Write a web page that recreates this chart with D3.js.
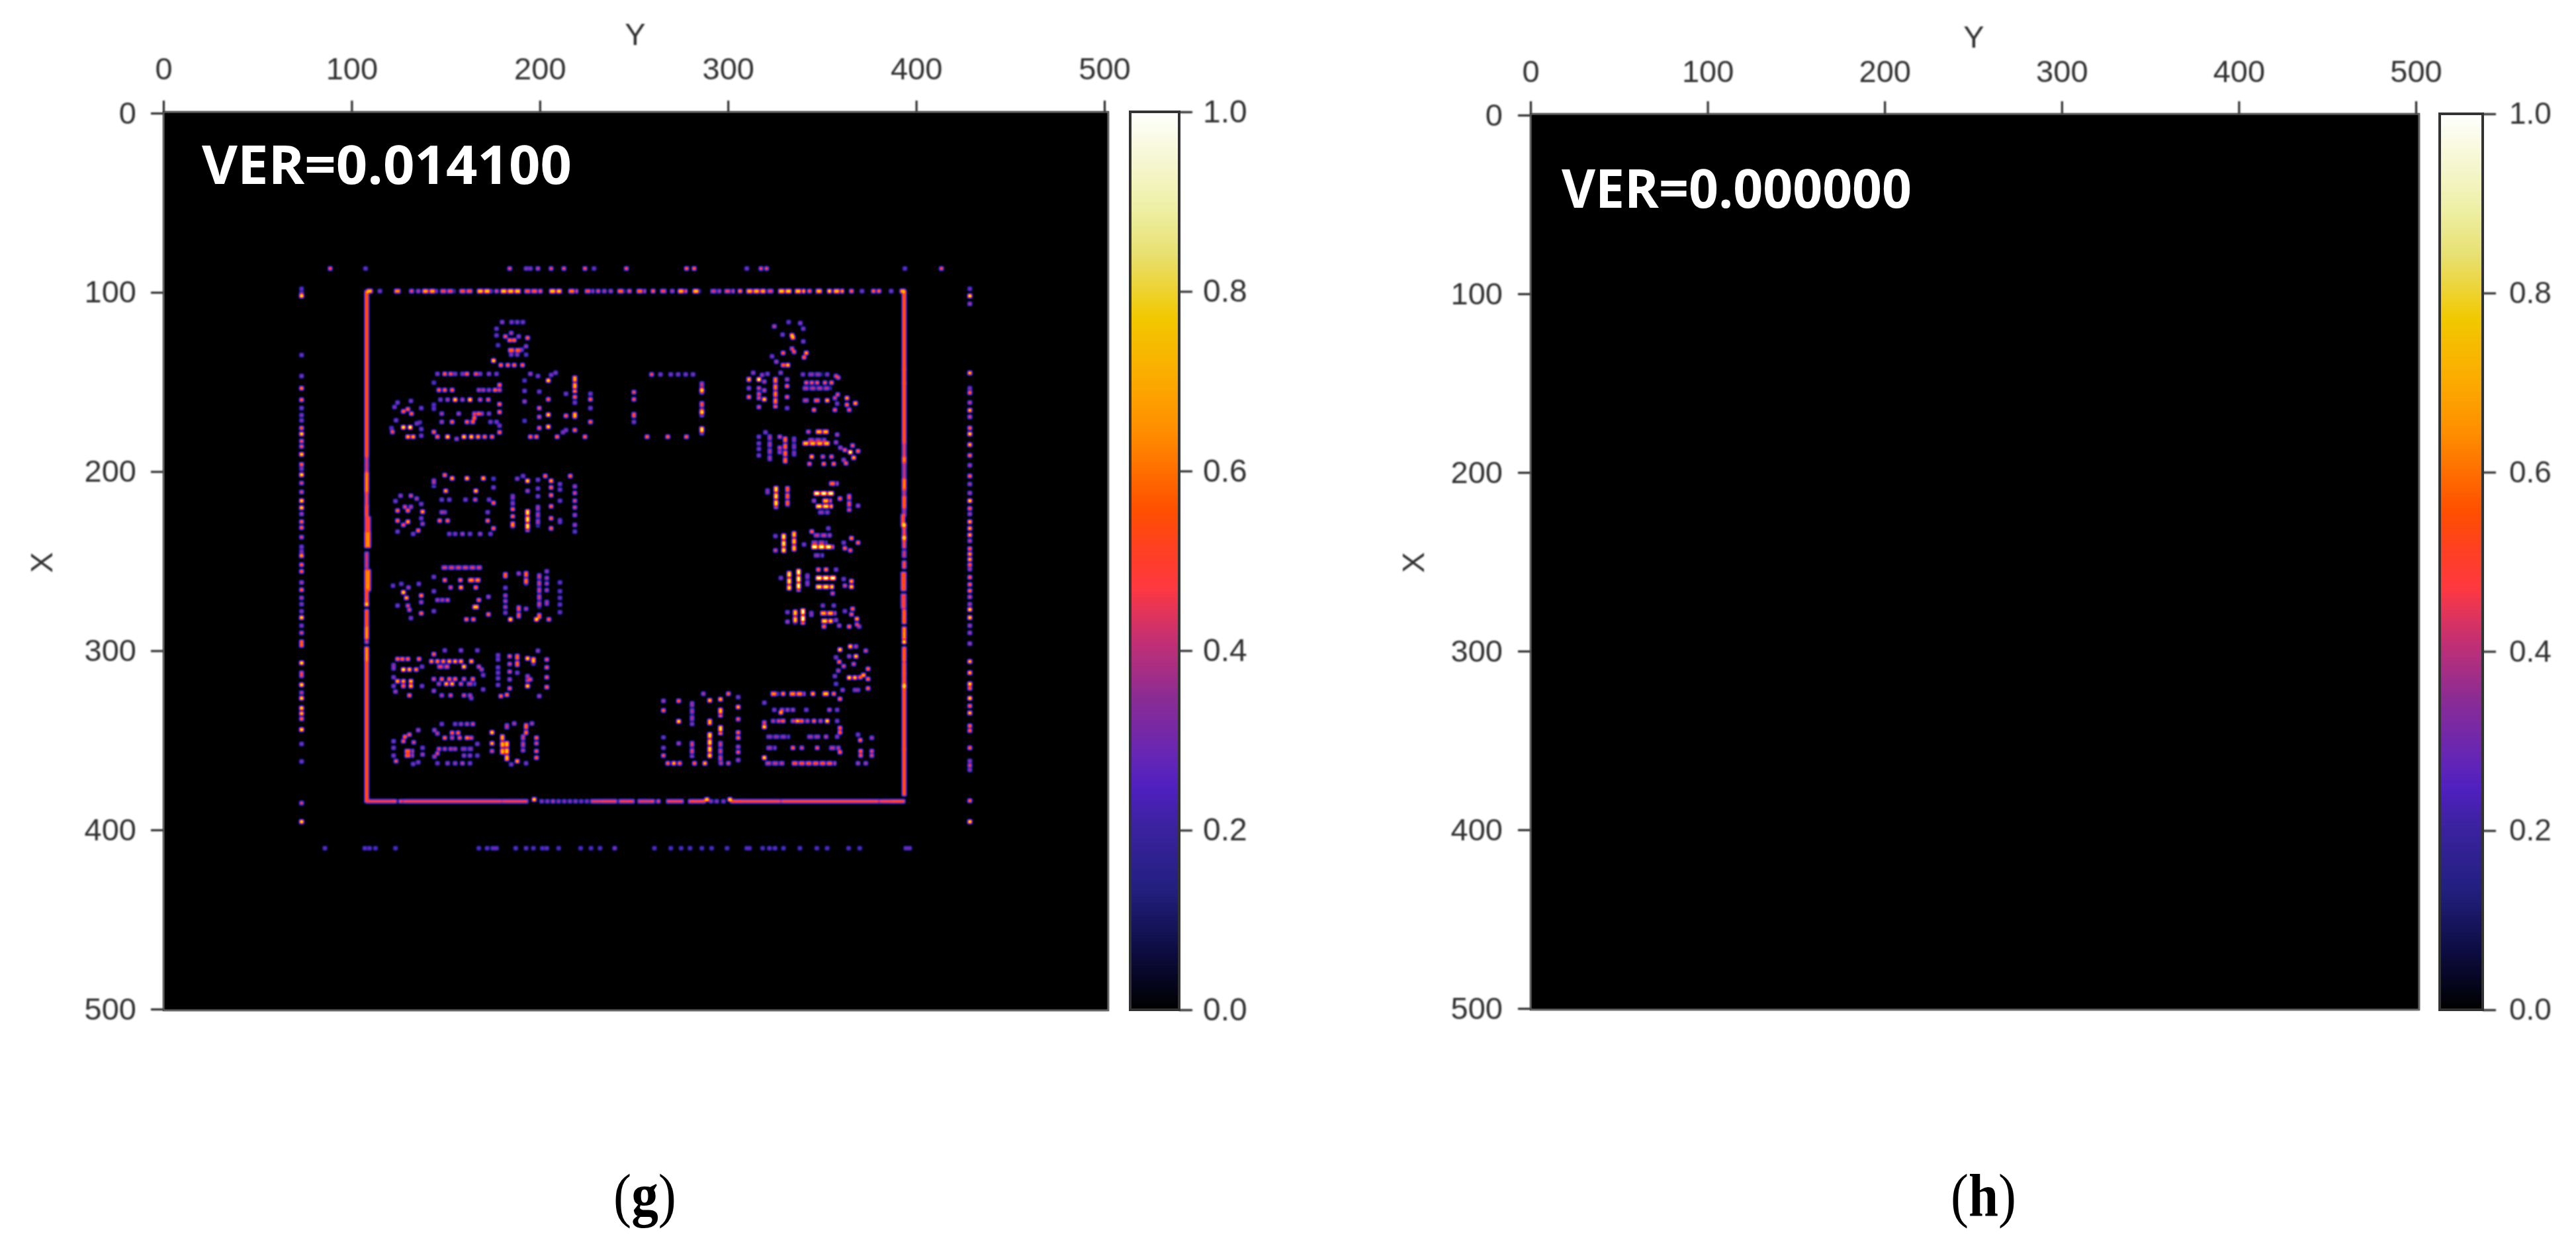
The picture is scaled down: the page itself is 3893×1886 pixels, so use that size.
<!DOCTYPE html>
<html>
<head>
<meta charset="utf-8">
<script src="https://cdn.jsdelivr.net/npm/d3@7"></script>
<style>
  body { margin: 0; background: #fff; }
  text { font-family: "Liberation Sans", Arial, sans-serif; }
</style>
</head>
<body>
<svg id="chart" width="3893" height="1886"></svg>
<script>
const X_TICKS = [0, 100, 200, 300, 400, 500];
const Y_TICKS = [0, 100, 200, 300, 400, 500];
const CB_TICKS = [0, 0.2, 0.4, 0.6, 0.8, 1];

// colour map, bottom to top
const cmapStops = [0, .063, .134, .205, .247, .275, .345, .416, .47, .515, .557, .64, .70, .77, .84, .895, 1];
const cmapColors = ["#000000", "#0c0c40", "#222080", "#3c22a0", "#5020c0", "#6225b8", "#8a2c95", "#c83070", "#ff3840",
  "#ff4020", "#ff5000", "#ff8c00", "#fcaa00", "#f2c800", "#e8e070", "#eef0a8", "#ffffff"];

// runs: [col0, row0, col1, row1, value]  dots: [col, row, value]  (pixel indices of the 500x500 map)
const leftEdge = [
  [108,100,108,142.4,.52],[108,144.3,108,151.7,.52],[108,153.5,108,167,.52],[108,168.9,108,191,.52],
  [108,192.9,108,195.4,.4],[108,196.6,108,200.3,.4],[108,201.5,108,203.4,.6],[108,205.2,108,210.8,.6],
  [108,212.6,108,218.7,.45],[108,220,108,224.3,.5],[109,226.1,108,233.5,.45],[108,234.8,109,241.5,.58],
  [108,245.8,108,248.3,.4],[108,250.1,108,253.2,.4],[108,255.7,109,265.6,.58],[108,266.8,108,272.9,.5],
  [108,277.9,108,285.9,.52],[108,287.7,108,292.6,.62],[108,298.8,108,305,.62],[108,306.8,108,314.8,.52],
  [108,316.6,108,383.7,.52]
];
const rightEdge = [
  [393.6,100,393.6,142.4,.52],[393.6,143.5,393.6,150,.52],[393.6,151,393.6,183.7,.52],[393.6,185,393.6,192,.42],
  [393.6,193,393.6,195,.6],[393.6,196,393.6,204,.38],[393.6,205.2,393.6,210,.6],[393.6,211,393.6,214,.38],
  [393.6,215,393.6,220,.55],[393.6,221.5,393.6,224,.35],[393,224.9,393,229.8,.5],[393.6,231,393.6,236,.45],
  [393.6,238,393.6,242,.45],[393.6,245,393.6,247,.4],[393.6,250.8,393.6,253.2,.48],[393.6,257,393,265.6,.5],
  [393,269.2,393.6,275.4,.45],[393.6,277.9,393.6,284,.55],[393.6,287.7,393.6,292.6,.62],[393.6,298.8,393.6,305,.55],
  [393.6,307.4,393.6,312.3,.52],[393.6,313.6,393.6,354.2,.52],[393.6,355.4,393.6,380,.52]
];
const topEdge = [
  [108,99.3,111,99.3,.62],[122.8,99.3,126,99.3,.55],[130.7,99.3,133,99.3,.4],[137.7,99.3,145.6,99.3,.58],
  [147.2,99.3,155,99.3,.42],[157.4,99.3,164.4,99.3,.45],[166.8,99.3,174.6,99.3,.64],[179.3,99.3,190.3,99.3,.64],
  [191.9,99.3,201.3,99.3,.45],[205.2,99.3,211.5,99.3,.64],[215.4,99.3,220.2,99.3,.52],[224,99.3,228.8,99.3,.42],
  [241.4,99.3,245.3,99.3,.5],[251.6,99.3,256.3,99.3,.5],[264.1,99.3,267.3,99.3,.42],[273.5,99.3,278.2,99.3,.6],
  [281.4,99.3,285.3,99.3,.64],[290.8,99.3,296.3,99.3,.36],[298.2,99.3,303.5,99.3,.4],[309.9,99.3,319.9,99.3,.6],
  [321,99.3,324.6,99.3,.4],[326.9,99.3,334,99.3,.65],[335.7,99.3,341,99.3,.64],[346.8,99.3,350.4,99.3,.62],
  [356.2,99.3,361.5,99.3,.62],[391.4,99.3,394.3,99.3,.6]
];
const bottomEdge = [
  [108.7,384,121.2,384,.44],[128.3,384,178.6,384,.44],[180.9,384,192.7,384,.44],[228,384,232,384,.42],[234,384,240,384,.44],
  [243,384,249.2,384,.44],[253.1,384,258,384,.42],[268.3,384,275.3,384,.44],[280,384,287,384,.46],[302.3,384,307.6,384,.47],
  [309.3,384,321,384,.46],[322.8,384,326.9,384,.46],[329.3,384,370.9,384,.46],[372.6,384,379,384,.46],[381.4,384,386,384,.46],
  [387.9,384,393,384,.48]
];
const edgeDots = [
  [115,99.3,.3],[135.4,99.3,.35],[177,99.3,.4],[231,99.3,.4],[234.3,99.3,.35],[237.7,99.3,.35],[247.6,99.3,.45],[260.2,99.3,.5],
  [270.4,99.3,.35],[306.4,99.3,.55],[343.3,99.3,.5],[353.9,99.3,.7],[365.6,99.3,.5],[371.2,99.3,.3],[377.3,99.3,.5],[380.2,99.3,.5],[386.7,99.3,.3],
  [108,274.2,.68],[108,295.1,.38],[393.6,229.8,.7],[393.6,237,.7],[393.6,295.1,.7],[393.6,319.7,.7],
  [123,384,.42],[126,384,.42],[197,383,.7],[201,384,.3],[204,384,.3],[207,384,.35],[210,384,.3],[213,384,.3],[216,384,.3],[219,384,.3],[222,384,.28],[225,384,.28],
  [260,384,.4],[263,384,.4],[288.8,383,.7],[291,384,.3],[294,384,.3],[297.6,384,.3],[301,383,.7]
];
const outerTop = [88.6,107.4,184,192.7,195,199,206,212.8,224,228.8,246,278,282,310,317.5,320.5,394,413.4];
const outerTopVal = [.45,.28,.42,.3,.3,.38,.42,.42,.45,.28,.45,.5,.5,.3,.42,.42,.28,.45];
const outerBottom = [85.8,107,109.5,112.7,123.3,167.6,172,175,177,187.2,192.7,196.6,201.3,203.7,210,221.7,227.2,232,239.8,260.9,269.6,275.1,279.8,286.1,291.3,299.5,310,329.5,338.2,347.2,352.7,364.1,311.4,318.4,322,325,370,394.5,396.5];
const outerBottomVal = [.26,.26,.26,.24,.24,.24,.26,.26,.26,.26,.26,.24,.24,.26,.24,.24,.24,.24,.3,.24,.24,.24,.24,.24,.24,.24,.24,.24,.24,.24,.24,.24,.24,.24,.26,.26,.24,.26,.26];
const outerLeft = [
  [73.4,98,.26],[73.4,100.5,.26],[73.4,102,.7],[73.4,135,.28],[73.4,146.7,.3],[73.4,153.5,.55],[73.4,160,.5],[73.4,164.6,.3],[73.4,168.5,.3],[73.4,171.5,.3],
  [73.4,175.7,.5],[73.4,179,.7],[73.4,183,.45],[73.4,186,.45],[73.4,190.4,.7],[73.4,196,.5],[73.4,198.5,.3],[73.4,201.8,.72],[73.4,206.4,.4],[73.4,211.4,.4],
  [73.4,216.3,.7],[73.4,220.2,.7],[73.4,223.7,.35],[73.4,228,.5],[73.4,231.3,.5],[73.4,236.6,.4],[73.4,242,.3],[73.4,244.6,.3],[73.4,247,.6],[73.4,252,.5],
  [73.4,255.7,.5],[73.4,261.9,.35],[73.4,266,.5],[73.4,270.5,.35],[73.4,274,.3],[73.4,278,.3],[73.4,281.5,.7],[73.4,286,.3],[73.4,290,.4],[73.4,295,.5],[73.4,297,.5],
  [73.4,306.8,.72],[73.4,312.3,.4],[73.4,314,.4],[73.4,319,.72],[73.4,323.4,.35],[73.4,326.5,.7],[73.4,332,.7],[73.4,335,.65],[73.4,338,.5],[73.4,344,.72],[73.4,352,.3],[73.4,361.8,.3],[73.4,385,.4],[73.4,395.4,.7]
];
const outerRight = [
  [428.5,98,.28],[428.5,102,.72],[428.5,106.4,.35],[428.5,145,.62],[428.5,153.5,.3],[428.5,156,.5],[428.5,161.5,.38],[428.5,165.8,.62],[428.5,169.5,.4],[428.5,175.7,.5],
  [428.5,179,.7],[428.5,185,.62],[428.5,191,.5],[428.5,196.5,.35],[428.5,202.5,.5],[428.5,207,.35],[428.5,212,.35],[428.5,216.3,.7],[428.5,220.6,.5],[428.5,223.7,.35],
  [428.5,228,.62],[428.5,231.7,.62],[428.5,235.4,.62],[428.5,238.7,.38],[428.5,243,.5],[428.5,246,.6],[428.5,249,.62],[428.5,252,.5],[428.5,254.5,.35],
  [428.5,259,.5],[428.5,263,.5],[428.5,266.5,.52],[428.5,270,.4],[428.5,274,.35],[428.5,277,.7],[428.5,281.5,.7],[428.5,286,.35],[428.5,290,.35],[428.5,296,.35],
  [428.5,306,.62],[428.5,312.3,.62],[428.5,318.5,.7],[428.5,321,.5],[428.5,326.5,.7],[428.5,330.8,.5],[428.5,334.7,.65],[428.5,341.9,.5],[428.5,344.6,.5],[428.5,354.2,.5],
  [428.5,361.5,.32],[428.5,364,.4],[428.5,366.5,.32],[428.5,383.7,.5],[428.5,395.4,.7]
];
const digitDots = [
  // 9, 2, 3 in the left column
  [180,116.6,.33],[185,116.6,.3],[188,116.6,.3],[191,116.6,.3],[177,120.3,.28],[177,124,.28],[181.7,124.6,.45],[184.8,122.7,.35],[188.8,124.6,.33],[186.4,126.7,.5],[184,126.7,.5],
  [193.5,125.4,.5],[177.8,129.5,.25],[192.7,130.1,.33],[190.3,132,.3],[184.8,134.8,.3],[188,134.8,.3],[192.7,134.8,.25],[175.4,138.1,.7],[179.3,140.6,.5],[183,140.6,.5],[186.4,140.6,.5],[190.8,140.6,.5],
  [124.4,161.5,.3],[131.5,160.6,.3],[137,164.6,.3],[122.8,164,.3],[127.5,166.4,.5],[129.9,165.2,.5],[131.8,167.7,.5],[123.6,171.4,.3],[121.2,175.7,.25],[134.6,173.2,.3],[127.5,175.3,.75],[131.1,175.3,.85],
  [136.2,172.6,.25],[137,176.3,.3],[121.7,177.9,.45],[129.9,180.6,.62],[132.7,180.6,.62],[137,180,.3],
  [126,213.5,.33],[131.5,213.5,.4],[134.6,215.1,.35],[137,218.1,.3],[123.3,216.5,.3],[128.3,219.7,.4],[131.5,219.7,.35],[124.4,221.8,.5],[129.9,221.8,.5],[137.7,222.4,.6],[137,226.1,.3],[124.4,227.4,.5],
  [129.9,228,.62],[127.5,229.8,.45],[137.7,229.2,.35],[135.4,232.9,.5],[124.4,233.5,.3],[132.7,234.8,.3],
  [122,263.7,.28],[126.4,262.7,.28],[130.2,264.7,.35],[135.7,262.7,.3],[127.5,267.4,.7],[129.1,270.5,.62],[137,269.2,.55],[137,272.9,.35],[124.4,274.8,.3],[129.9,274.8,.4],[130.7,277.2,.4],[137,279.1,.5],[131.5,281.8,.3],
  [124.4,304.6,.5],[127,304.6,.5],[129.9,304.6,.5],[135.8,304.6,.5],[122.3,308,.3],[122.3,309.9,.3],[127.5,310.5,.75],[130.7,310.5,.65],[134.3,310.5,.55],[137.4,308.9,.3],[122.3,314.8,.3],[124.4,317,.62],[127.5,317,.6],[131.5,317,.65],
  [127.5,319.7,.5],[131.5,319.7,.62],[122.3,319.7,.3],[137.4,319.7,.3],[123.3,322.8,.35],[130.7,324.9,.5],
  [128.3,348,.5],[130.7,346.8,.45],[133,351.1,.4],[127.5,350.5,.45],[122.3,350.5,.3],[122.3,354.2,.3],[122.3,358.5,.3],[137.7,354.2,.3],[137.7,357.9,.35],[135.4,362.2,.3],[123.6,361.6,.45],[132.7,363.2,.3],[135.4,344.3,.35],
  // 3 and 2 in the right column
  [324.6,119,.38],[332.2,116.6,.28],[338.4,117.2,.33],[340,120.3,.3],[329,123.6,.3],[334,124,.65],[334.5,125.2,.62],[340,127.4,.3],[334,131.4,.4],[335.1,133.2,.45],[329.3,133.8,.5],[341.6,133.8,.6],[340.4,136.3,.5],[323.4,135.7,.3],[325.7,138.7,.35],[329.3,140.6,.5],[331.8,140.6,.65],
  [365,297.6,.65],[368,297.6,.35],[359.5,299.4,.68],[373.2,300,.4],[357.4,303.7,.3],[364.4,303.1,.35],[368,303.1,.68],[366.8,307.4,.4],[359.1,306.2,.5],[361.5,308.6,.4],[358.6,311.1,.35],[356.8,314.2,.3],[374.4,310.1,.5],[372,313.6,.62],
  [364.4,315,.72],[367.4,315,.65],[370.3,314.8,.5],[374.4,315.8,.5],[357.4,318.5,.28],[360.9,321.9,.33],[367.4,321.9,.3],[369.1,321.9,.3],[374.4,321,.5]
];
const blockDots = [
  // horizontal pads, left column
  [145.6,145.5,.3],[149.5,145.5,.5],[152.6,145.5,.45],[155,145.5,.3],[158.9,145.5,.3],[161.3,145.5,.5],[166,145.5,.45],[168.3,145.5,.3],[173,145.5,.33],[177,145.5,.3],
  [143.7,150.4,.25],[178.6,151.7,.5],[146.4,154.5,.5],[149.5,154.5,.5],[153.4,154.5,.5],[167.6,154.5,.35],[170,154.5,.35],[173,154.5,.33],[176.2,154.5,.5],[178.6,154.5,.4],
  [147.2,159.9,.3],[151,159.9,.35],[155,159.9,.7],[158.9,159.9,.35],[162.9,159.9,.7],[168.3,159.9,.4],[172.6,159.9,.45],[143.7,162.7,.25],[143.7,165,.25],[178.6,162.4,.5],[178.6,166.8,.5],
  [147.9,167.7,.35],[156.9,167.7,.35],[165.2,167.7,.4],[167.6,167.7,.5],[169.1,167.7,.35],[173,167.7,.3],[147.9,172.3,.35],[153.4,172.3,.5],[161.3,172.3,.5],[164.4,172.3,.5],[173.8,172.3,.3],[177,172.3,.3],[165.2,170.1,.5],
  [143.7,177.9,.5],[178.6,178.1,.5],[178.6,174.4,.3],[145.6,180.6,.5],[151,180.6,.7],[155.8,181.8,.35],[159.7,180.6,.7],[163.6,180.6,.7],[167.2,180.6,.6],[170.7,180.6,.5],[174.6,180.6,.5],
  [149.5,202,.5],[153.4,203.8,.62],[161.3,203.8,.65],[170,203.8,.65],[175.4,204,.25],[175.4,208.9,.3],[150,210.8,.6],[166,210.8,.65],[147.9,215.7,.3],[151.9,215.7,.3],[160.5,215.7,.3],[165.7,215.7,.4],[173,215.7,.3],[175.4,217.5,.5],
  [147.9,222.7,.35],[149.5,222.7,.3],[172.3,222.7,.3],[146.8,227.4,.5],[151,227.4,.5],[172.3,227.4,.5],[175.4,231.7,.5],[151.9,234.8,.3],[155,234.8,.3],[158.9,234.8,.35],[162.9,234.8,.3],[168.3,234.8,.35],[173.8,234.8,.3],
  [149.5,260.6,.5],[157.8,260.6,.5],[143.7,258.8,.3],[143.7,266.8,.3],[143.7,277.9,.3],[152.6,264.7,.4],[158.1,264.7,.62],[166,264.7,.5],[145.6,271.7,.35],[148.2,271.7,.35],[151,271.7,.4],[172.7,269.9,.35],[167.6,271.7,.5],[172.7,279.7,.5],[161,282.5,.5],[164.7,282.5,.5],
  [149.5,299.8,.3],[158.1,299.8,.33],[166.8,299.8,.3],[143.7,301.9,.5],[142.4,305.9,.55],[145.6,305.9,.55],[148.7,305.9,.55],[151.9,305.9,.6],[155,305.9,.6],[158.1,305.9,.6],[163.6,305.9,.62],[159.7,308.9,.7],[167.6,308.9,.4],[169.1,310.5,.35],[169.9,313.6,.3],
  [143.7,315.8,.4],[147.9,315.8,.5],[151.9,315.8,.5],[155,315.8,.5],[159.7,315.8,.4],[164.4,315.8,.5],[146.4,318.5,.35],[150.3,318.5,.65],[153.4,318.5,.65],[158.1,318.5,.4],[169.9,321.6,.3],[143.7,322.4,.35],[147.9,324.9,.35],[152.6,324.9,.4],[159.7,324.9,.4],[162.9,324.9,.35],[163.6,326.5,.3],
  [147.9,340.9,.3],[155,340.9,.3],[158.1,340.9,.33],[161.3,340.9,.35],[164.4,340.9,.4],[144,344.3,.35],[145.6,346.2,.35],[153.4,345.8,.5],[156.6,345.8,.5],[149.5,348.6,.5],[153.4,348.6,.38],[157.4,348.6,.45],[161.3,348.6,.55],[163.6,348.6,.4],[166.8,352,.3],
  [146.4,354.8,.4],[149.5,354.8,.35],[152.6,354.8,.35],[155,354.8,.35],[145.6,357.3,.4],[159.7,358.5,.33],[162.9,358.5,.33],[166.8,358.5,.28],[144,359.1,.35],[145.6,362.8,.28],[151,362.8,.33],[155,362.8,.33],[158.9,362.8,.38],[162.9,362.8,.3],
  // vertical pads, left column
  [191.9,149.2,.25],[191.9,155,.3],[191.9,160.9,.35],[191.9,171.7,.25],[195,145.5,.35],[199,146.7,.3],[199.7,155.4,.3],[199.7,164.6,.45],[199.7,169.5,.4],[199.7,175.7,.45],[206,146.1,.3],[204.5,149.2,.7],[204.5,159.7,.5],[204.5,168.3,.7],[204.5,175,.7],
  [213.9,156.6,.3],[213.9,168.9,.5],[213.9,176.9,.3],[218.6,158.4,.5],[218.6,161.5,.3],[218.6,176.9,.5],[226.9,156.6,.3],[226.9,159.7,.5],[226.9,164.6,.3],[226.9,172.3,.5],[195,180.6,.5],[198.2,180.6,.5],[209.2,180.6,.5],[212.3,178.1,.3],[224,180.6,.5],[208.4,144.9,.3],
  [188,204,.33],[191.1,202.5,.3],[193.5,205.2,.7],[193.5,210.8,.35],[199,204.6,.3],[199,209.5,.3],[199,213.8,.3],[206,205.2,.6],[206,208.9,.5],[206,213.2,.5],[206,219.4,.5],[206,226.1,.5],[206,231.7,.5],[202.9,202.5,.5],[216.2,202.5,.5],[210.7,207,.3],[210.7,210.1,.3],[210.7,216.3,.3],
  [218.6,208.3,.35],[218.6,212,.4],[218.6,216.3,.4],[218.6,220,.4],[218.6,224.3,.35],[218.6,229.8,.35],[218.6,233.5,.28],
  [181.7,264.9,.3],[181.7,269.2,.35],[181.7,272.3,.35],[181.7,275.6,.35],[181.7,278.8,.3],[184.4,282.5,.7],[188.8,256.9,.35],[192.7,276.6,.35],[203.7,255.7,.33],[203.7,259.4,.35],[203.7,262.5,.35],[203.7,266.2,.35],
  [210.7,261.9,.28],[210.7,266.8,.28],[210.7,270.5,.28],[210.7,274.2,.28],[210.7,278.5,.28],[198.2,282.5,.7],[204.8,282.5,.5],
  [177.8,302.5,.3],[177.8,304.9,.3],[177.8,309.3,.3],[177.8,312.3,.3],[177.8,315.4,.3],[177.8,319.1,.3],[184,303.1,.45],[184,307.4,.4],[184,311.7,.4],[184,316,.35],[184,321,.45],[182.5,324.6,.5],[179.3,325.3,.5],[188,312.3,.3],[193.5,304.3,.7],[193.5,314.2,.35],[193.5,316.6,.35],[193.5,319.7,.7],
  [195,316,.4],[199,300,.33],[199.7,325.3,.35],[203.7,304.9,.45],[203.7,309.3,.45],[203.7,314.8,.45],[203.7,320.3,.5],
  [174.6,345.6,.7],[174.6,351.7,.62],[174.6,356,.4],[186.4,340.6,.35],[195.8,340.6,.35],[198.2,348.6,.5],[198.2,351.7,.4],[198.2,356,.45],[198.2,359.7,.5],[188,361.6,.6],[184.8,363.4,.3],[192.7,362.8,.3],
  // square pad
  [259.4,145.8,.45],[264.1,145.8,.3],[269.6,145.8,.3],[273.5,145.8,.3],[277.5,145.8,.3],[281.4,145.8,.3],[286.1,154.5,.7],[286.1,167,.7],[250,155.7,.45],[250,159.7,.45],[250,172.3,.3],[257,180.6,.5],[268,180.6,.5],[277.9,180.6,.5],
  // right column pads
  [311.1,153.5,.33],[311.1,158.4,.5],[316.4,148.6,.9],[316.4,153.5,.4],[316.4,156.6,.4],[316.4,159,.4],[316.4,164,.4],[313.4,144.9,.33],[318.1,146.1,.33],[319.3,149.8,.35],[319.3,154.7,.38],[319.3,159.7,.68],[331.4,148.6,.35],[331.4,152.3,.5],[331.4,158.4,.45],[331.4,164.6,.3],[328,144.9,.33],[321,145.5,.3],
  [339.8,145.8,.3],[352.7,145.8,.3],[357.4,146.7,.4],[358.6,147.6,.4],[341.6,150.4,.45],[344.5,150.4,.45],[347.4,150.4,.45],[351.5,150.4,.45],[355,150.4,.5],[352.7,160.3,.62],[356.8,159,.38],[358.3,157,.4],[363.2,159,.6],[363.2,162.7,.5],[367.7,161.9,.6],[345.7,165.6,.5],[356.8,165.6,.45],[364.4,165.6,.45],[358,162.1,.3],
  [316.4,180.6,.3],[316.4,184.3,.3],[316.4,187.4,.3],[316.4,191,.3],[327.5,180.6,.4],[327.5,186.7,.4],[327.5,189.2,.33],[319.9,178.1,.3],[342.7,177.8,.4],[358,179.4,.35],[357.4,183.7,.35],[359.7,186.7,.35],[362.1,188,.45],[365,189.2,.85],[369.1,188.6,.5],[366.2,185.5,.45],[344.5,191.7,.62],[350.4,191.7,.4],[355,191.7,.45],[366.8,192.3,.62],[361.5,193.5,.33],
  [343.3,195.7,.45],[350.9,195.7,.5],[356.2,195.7,.5],[362.7,195.4,.45],[359.5,215.1,.5],[345.7,216.3,.35],[369.1,219.1,.35],[325.2,236,.3],[325.2,244,.4],[340.4,240.7,.3],[344.5,233.5,.5],[353.3,231.7,.3],[361.5,239.7,.3],[365.6,237.2,.55],[369.1,239.7,.5],[362.1,242.8,.5],[365,244,.45],
  [328.1,259.4,.3],[348,254.7,.5],[352.1,254.7,.55],[357.4,254.7,.3],[355.6,268,.4],[361.5,260,.3],[365.6,261.2,.6],[362.1,263.7,.4],[365.6,264.3,.68],[331.6,278.5,.3],[331.6,283.8,.35],[350.4,274.8,.3],[356.2,274.8,.3],[351,286.5,.5],[362.1,277.9,.3],[366.2,276.6,.5],[365.6,279.7,.45],[368.5,282.2,.6],[364.4,286.5,.5],[369.7,286.5,.33],[368.5,285.3,.4],[359.1,286,.35],[357.4,282.9,.33],
  // lower right block
  [265.7,328,.35],[265.7,333.3,.5],[265.7,354.2,.3],[265.7,358.5,.45],[273.8,328,.5],[273.8,339.4,.7],[273.8,351.7,.35],[290.3,327.7,.65],[296,327.1,.62],[286.9,324,.35],[300.2,324,.5],[305.4,325.9,.3],[305.4,331.4,.62],[305.4,338.2,.45],[305.4,345.6,.5],[305.4,348.6,.5],[305.4,353.6,.35],[305.4,356.6,.45],[305.4,361,.35],
  [268,362.8,.5],[271.2,362.8,.62],[274.3,362.8,.5],[282.2,362.8,.5],[287.7,362.8,.62],[296.3,362.8,.35],[300.2,362.8,.4],
  [329.3,324,.55],[345.1,324,.62],[356.2,324,.5],[359.5,326.9,.5],[319.3,329,.3],[324.6,333,.3],[328.7,333,.35],[331.6,333,.35],[334.5,333,.35],[341.6,333,.3],[353.9,333,.38],[358,333,.3],[328.1,334.5,.6],
  [324,339.2,.35],[326.9,339.2,.4],[329.3,339.2,.5],[334.5,339.2,.38],[336.9,339.2,.62],[339.2,339.2,.5],[342.2,339.2,.38],[345.7,339.2,.5],[349.2,339.2,.38],[352.7,339.2,.7],[358,339.2,.3],[319.3,340,.4],[319.3,342.5,.7],[359.5,343.1,.5],[359.5,345.6,.5],
  [352.1,348,.38],[358,348,.3],[334.5,354.2,.5],[339.2,354.2,.4],[347.4,354.2,.45],[359.5,356.6,.5],[319.3,359.7,.7],
  [369.1,346.8,.3],[370.3,349.9,.5],[370.5,356,.5],[370.5,358.5,.45],[376.4,348.6,.35],[376.4,356,.4],[376.4,358.5,.4],[369.1,362.8,.35],[373.2,362.8,.35]
];
const blockRuns = [
  [218.6,146.7,218.6,156,.62],[218.6,167,218.6,171,.65],[286.1,149.8,286.1,157.2,.35],[286.1,160.9,286.1,169.5,.45],[286.1,175,286.1,179.4,.72],[250,167,250,170,.45],
  [183.3,132.3,190.3,132.3,.5],[143.7,204,143.7,208.9,.35],
  [185.6,212.6,185.6,219,.3],[185.6,220,185.6,222,.5],[185.6,224,185.6,226,.5],[185.6,228,185.6,232,.55],[193.5,221.2,193.5,233.5,.72],[199,218.7,199,231,.33],[210.7,226.1,210.7,229.8,.28],
  [147.9,253.6,169.1,253.6,.38],[162,260.6,168.3,260.6,.55],[164.4,275.6,167.6,275.6,.65],[181.7,256.3,181.7,260,.5],[188.8,274.8,188.8,282.2,.42],[192.7,255.7,192.7,263.7,.5],[199.7,256.9,199.7,276.6,.36],[199.7,279.1,199.7,282.2,.48],[203.7,271.7,203.7,275.4,.33],
  [145.6,308.9,151.9,308.9,.4],[161.3,318.5,166,318.5,.35],[188,301.9,188,309.3,.5],[196.6,303.7,196.6,308,.62],
  [158.1,354.8,164.4,354.8,.3],[180.1,346.8,180.1,357.9,.6],[182.5,340.6,182.5,344.3,.35],[182.5,350.5,182.5,361.6,.62],[191.1,346.8,191.1,356.6,.36],[192.7,340.6,192.7,346.8,.5],[128.3,356,133,356,.48],[128.3,358.5,133,358.5,.48],
  [265.7,347.4,265.7,349.3,.3],[280.9,328.3,280.9,341.9,.32],[280.9,350.5,280.9,359.7,.38],[290.3,338.2,290.3,341.9,.62],[290.3,345.6,290.3,359.7,.68],[296,332,296,337,.62],[296,341.9,296,346.8,.7],[296,350.5,296,362.8,.36],
  [322.8,324,326.9,324,.55],[332.8,324,341,324,.55],[350.4,324,353.9,324,.65],[320.5,348,332.8,348,.3],[342.2,348,349.2,348,.33],[320.5,354.2,325.7,354.2,.33],[353.9,354.2,359.7,354.2,.35],[319.9,362.8,329.8,362.8,.35],[334,362.8,357.4,362.8,.45],
  [311.1,147.4,311.1,149.8,.6],[325.2,147.4,325.2,164.6,.52],[342.7,145.8,350.4,145.8,.3],[339.8,153.5,355,153.5,.34],[339.8,160.3,343.3,160.3,.35],[345.7,160.3,349.2,160.3,.45],
  [322.2,179.4,322.2,194.1,.33],[330.4,180.6,330.4,196,.5],[335.1,180.6,335.1,191.7,.28],[346.8,177.8,353.3,177.8,.62],[339.8,184.3,353.9,184.3,.62],[342.7,182.4,352.1,182.4,.33],
  [321,209.5,321,213.2,.3],[325.5,208.3,325.5,220.6,.7],[331.6,208.3,331.6,220,.48],[353.9,206.7,358.6,206.7,.5],[345.7,212.2,356.2,212.2,.82],[350.4,216.3,355,216.3,.62],[346.8,219.4,355.6,219.4,.72],[348,222.8,353.9,222.8,.3],[364.4,212.6,364.4,222.4,.42],
  [329.6,234.8,329.6,245.2,.72],[335.1,233.5,335.1,244.6,.62],[345.7,235.6,355,235.6,.35],[344.5,239.7,352.7,239.7,.33],[344.5,242.1,356.2,242.1,.85],[345.7,246.8,350.9,246.8,.3],
  [332.5,255.7,332.5,266.2,.72],[337.5,254.5,337.5,266.8,.78],[342.2,256.9,342.2,264.3,.3],[346.8,259.4,357.4,259.4,.88],[346.8,264.3,356.2,264.3,.72],
  [335.7,277.2,335.7,285.2,.65],[339.8,276.6,339.8,285.2,.95],[344.3,277.9,344.3,281.6,.3],[349.2,279.1,357.4,279.1,.6],[349.8,283.4,355.6,283.4,.68]
];

const LABEL_G = "VER=0.014100";
const LABEL_H = "VER=0.000000";

const cmap = d3.scaleLinear().domain(cmapStops).range(cmapColors).clamp(true);

const panels = [
  { name: "g", label: LABEL_G, x0: 247, x500: 1669, right: 1675, y0: 171, y500: 1525, top: 169, bottom: 1527,
    cbLeft: 1708, cbRight: 1782, cbTop: 169, cbBottom: 1526, tickX: 17, padX: 32, padY: 22, cbPad: 16, cbFont: 48,
    verX: 305, verY: 278, verW: 559, yLabelX: 960, yLabelY: 68, xLabelX: 62, capX: 927, capW: 95 },
  { name: "h", label: LABEL_H, x0: 2313, x500: 3651, right: 3656, y0: 174, y500: 1524, top: 172, bottom: 1526,
    cbLeft: 3687, cbRight: 3752, cbTop: 172, cbBottom: 1526, tickX: 19, padX: 29, padY: 23, cbPad: 20, cbFont: 46,
    verX: 2360, verY: 314, verW: 529, yLabelX: 2983, yLabelY: 72, xLabelX: 2135, capX: 2948, capW: 99 }
];

const svg = d3.select("#chart");
const defs = svg.append("defs");

// blur the map then push it through the colour table, like an interpolated imshow
const table = d3.range(0, 1.0001, 1 / 128).map(v => d3.rgb(cmap(v)));
const heat = defs.append("filter").attr("id", "heat")
  .attr("filterUnits", "userSpaceOnUse").attr("x", 0).attr("y", 0).attr("width", 3893).attr("height", 1886)
  .attr("color-interpolation-filters", "sRGB");
heat.append("feGaussianBlur").attr("stdDeviation", 1.6);
const transfer = heat.append("feComponentTransfer");
["R", "G", "B"].forEach(ch => {
  transfer.append("feFunc" + ch).attr("type", "table")
    .attr("tableValues", table.map(c => (c[ch.toLowerCase()] / 255).toFixed(3)).join(" "));
});
defs.append("filter").attr("id", "soft").attr("x", "-5%").attr("y", "-5%").attr("width", "110%").attr("height", "110%")
  .append("feGaussianBlur").attr("stdDeviation", 0.9);

const grey = v => { const g = Math.round(Math.min(1, v) * 255); return `rgb(${g},${g},${g})`; };

const rowDots = (row, cols, vals) => cols.map((c, i) => [c, row, vals[i]]);
const dots = [].concat(edgeDots, outerLeft, outerRight, digitDots, blockDots,
  rowDots(86.7, outerTop, outerTopVal), rowDots(410.2, outerBottom, outerBottomVal));
const solidRuns = [].concat(leftEdge, rightEdge, bottomEdge);
const beadRuns = [].concat(topEdge, blockRuns);

panels.forEach(p => {
  const x = d3.scaleLinear().domain([0, 500]).range([p.x0, p.x500]);
  const y = d3.scaleLinear().domain([0, 500]).range([p.y0, p.y500]);
  const g = svg.append("g").attr("class", "panel-" + p.name);

  // image
  const map = g.append("g").attr("filter", "url(#heat)");
  map.append("rect").attr("x", p.x0).attr("y", p.top).attr("width", p.right - p.x0).attr("height", p.bottom - p.top).attr("fill", "#000");
  if (p.name === "g") {
    const w = 2.2, dotW = 2.1;
    map.selectAll("rect.run").data(solidRuns).join("rect").attr("class", "run")
      .attr("x", d => x(Math.min(d[0], d[2]) - w / 2))
      .attr("y", d => y(Math.min(d[1], d[3]) - w / 2))
      .attr("width", d => x(Math.abs(d[2] - d[0]) + w) - x(0))
      .attr("height", d => y(Math.abs(d[3] - d[1]) + w) - y(0))
      .attr("fill", d => grey(d[4] * 1.1));
    map.selectAll("line.bead").data(beadRuns).join("line").attr("class", "bead")
      .attr("x1", d => x(d[0])).attr("y1", d => y(d[1]))
      .attr("x2", d => x(d[2])).attr("y2", d => y(d[3]))
      .attr("stroke", d => grey(d[4] * 1.25))
      .attr("stroke-width", x(dotW) - x(0))
      .attr("stroke-dasharray", "8.5 2");
    map.selectAll("rect.dot").data(dots).join("rect").attr("class", "dot")
      .attr("x", d => x(d[0] - dotW / 2))
      .attr("y", d => y(d[1] - dotW / 2))
      .attr("width", x(dotW) - x(0))
      .attr("height", y(dotW) - y(0))
      .attr("fill", d => grey(d[2] * 1.25));
  }
  g.append("rect").attr("x", p.x0).attr("y", p.top).attr("width", p.right - p.x0).attr("height", p.bottom - p.top)
    .attr("fill", "none").attr("stroke", "#666").attr("stroke-width", 2.5);

  // axes
  const soft = g.append("g").attr("filter", "url(#soft)");
  const axisTop = soft.append("g").attr("transform", `translate(0,${p.top})`)
    .call(d3.axisTop(x).tickValues(X_TICKS).tickSize(p.tickX).tickPadding(p.padX));
  const axisLeft = soft.append("g").attr("transform", `translate(${p.x0},0)`)
    .call(d3.axisLeft(y).tickValues(Y_TICKS).tickSize(19).tickPadding(p.padY));
  [axisTop, axisLeft].forEach(a => {
    a.select(".domain").remove();
    a.selectAll(".tick line").attr("stroke", "#222").attr("stroke-width", 3);
    a.selectAll("text").attr("font-size", 47).attr("fill", "#333").attr("font-family", "Liberation Sans");
  });
  soft.append("text").attr("x", p.yLabelX).attr("y", p.yLabelY).attr("text-anchor", "middle")
    .attr("font-size", 47).attr("fill", "#333").text("Y");
  soft.append("text").attr("transform", `translate(${p.xLabelX},850) rotate(-90)`).attr("text-anchor", "middle")
    .attr("dy", "0.36em").attr("font-size", 47).attr("fill", "#333").text("X");

  // colour bar
  const cbY = d3.scaleLinear().domain([0, 1]).range([p.cbBottom, p.cbTop]);
  const levels = d3.range(0, 1, 1 / 300);
  g.append("g").selectAll("rect").data(levels).join("rect")
    .attr("x", p.cbLeft).attr("width", p.cbRight - p.cbLeft)
    .attr("y", d => cbY(d + 1 / 300)).attr("height", cbY(0) - cbY(1 / 300) + 1)
    .attr("fill", d => cmap(d));
  g.append("rect").attr("x", p.cbLeft).attr("y", p.cbTop).attr("width", p.cbRight - p.cbLeft).attr("height", p.cbBottom - p.cbTop)
    .attr("fill", "none").attr("stroke", "#333").attr("stroke-width", 4);
  const cbAxis = soft.append("g").attr("transform", `translate(${p.cbRight},0)`)
    .call(d3.axisRight(cbY).tickValues(CB_TICKS).tickSize(20).tickPadding(p.cbPad).tickFormat(d3.format(".1f")));
  cbAxis.select(".domain").remove();
  cbAxis.selectAll(".tick line").attr("stroke", "#222").attr("stroke-width", 3);
  cbAxis.selectAll("text").attr("font-size", p.cbFont).attr("fill", "#333").attr("font-family", "Liberation Sans");

  // annotation
  g.append("text").attr("x", p.verX).attr("y", p.verY)
    .attr("textLength", p.verW).attr("lengthAdjust", "spacingAndGlyphs")
    .attr("font-size", 81).attr("font-weight", 700).attr("fill", "#fff")
    .style("font-family", "'Open Sans', sans-serif").text(p.label);

  // sub-caption
  const cap = g.append("text").attr("x", p.capX).attr("y", 1837)
    .attr("textLength", p.capW).attr("lengthAdjust", "spacingAndGlyphs")
    .attr("font-size", 90).attr("fill", "#000").style("font-family", "'Liberation Serif', serif");
  cap.append("tspan").text("(");
  cap.append("tspan").attr("font-weight", 700).text(p.name);
  cap.append("tspan").text(")");
});
</script>
</body>
</html>
